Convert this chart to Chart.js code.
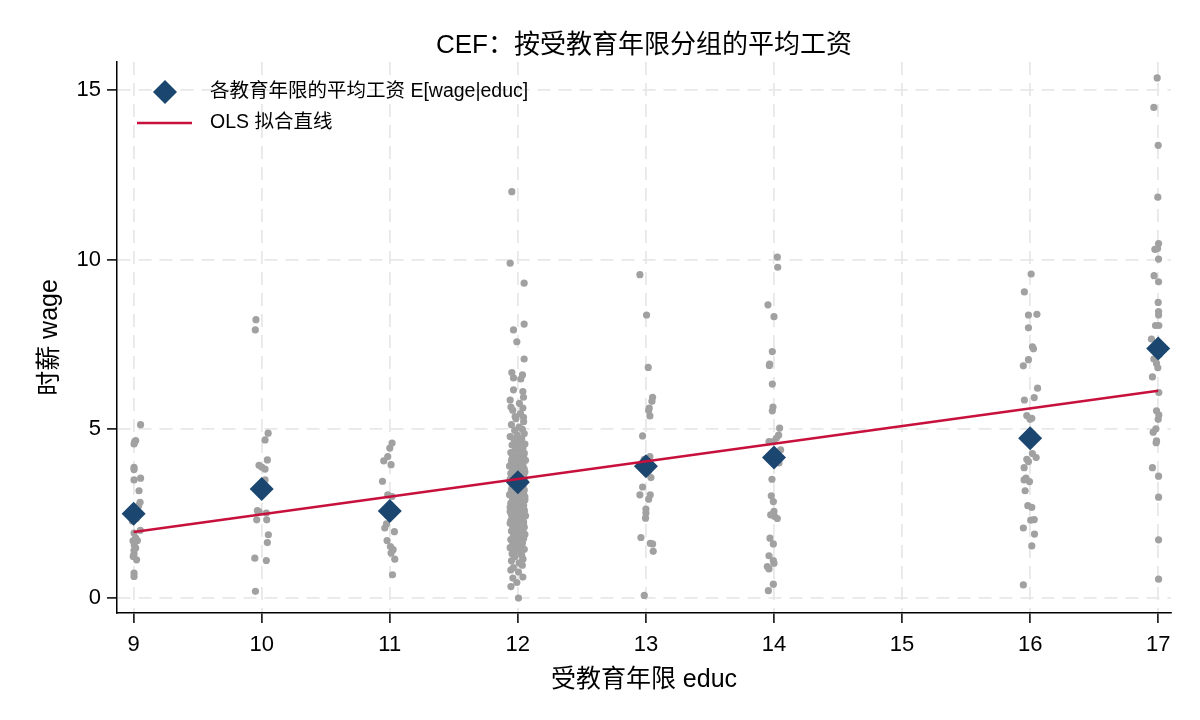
<!DOCTYPE html>
<html>
<head>
<meta charset="utf-8">
<script src="https://cdn.jsdelivr.net/npm/chart.js@4.4.1/dist/chart.umd.min.js"></script>
<style>
  html, body { margin: 0; padding: 0; background: #fff; }
  canvas { display: block; }
</style>
</head>
<body>
<canvas id="cef-chart" width="1200" height="720"></canvas>
<script>
// education levels present in the sample and the mean wage at each one
const educLevels = [9, 10, 11, 12, 13, 14, 16, 17];
const meanWage = [2.49, 3.22, 2.57, 3.42, 3.89, 4.15, 4.72, 7.37];

// OLS fitted line, read at both ends
const olsEduc = [9, 17];
const olsWage = [1.95, 6.12];

const xTicks = [9, 10, 11, 12, 13, 14, 15, 16, 17];
const yTicks = [0, 5, 10, 15];

// individual wages per education level, with the horizontal jitter seen in the plot
const wage9 = [5.12, 4.65, 4.62, 4.55, 3.86, 3.80, 3.54, 3.49, 3.17, 2.83, 2.73, 2.60, 2.35, 2.28, 2.00, 1.92, 1.77, 1.70, 1.69, 1.57, 1.48, 1.41, 1.30, 1.23, 1.13, 0.74, 0.64];
const jit9 = [0.054, 0.016, 0.008, 0.003, 0.003, 0.003, 0.054, 0.003, 0.042, 0.050, 0.039, -0.010, 0.020, -0.010, 0.052, 0.003, 0.016, 0.029, -0.005, 0.005, 0.016, 0.003, 0.003, -0.003, 0.023, 0.003, 0.003];

const wage10 = [8.22, 7.92, 4.87, 4.67, 4.08, 3.92, 3.87, 3.81, 3.49, 3.30, 3.10, 2.58, 2.55, 2.51, 2.31, 2.31, 1.87, 1.64, 1.18, 1.11, 0.20];
const jit10 = [-0.045, -0.050, 0.050, 0.026, 0.044, -0.021, 0.000, 0.026, 0.026, 0.000, 0.010, -0.034, -0.021, 0.036, -0.039, 0.039, 0.052, 0.044, -0.054, 0.036, -0.049];

const wage11 = [4.58, 4.43, 4.18, 4.05, 3.94, 3.45, 3.05, 3.00, 2.60, 2.45, 2.19, 2.07, 1.96, 1.70, 1.52, 1.43, 1.33, 1.15, 0.69];
const jit11 = [0.018, 0.000, -0.016, -0.047, 0.010, -0.057, -0.016, 0.018, 0.010, -0.020, -0.026, -0.039, 0.036, -0.021, 0.005, 0.026, 0.010, 0.039, 0.021];

const wage12 = [
  12.00, 9.89, 9.30, 8.09, 7.92, 7.57, 7.06, 6.66, 6.59, 6.50,
  6.47, 6.15, 6.10, 5.93, 5.85, 5.64, 5.61, 5.36, 5.34, 5.75,
  5.55, 5.45, 5.30, 5.21, 5.12, 5.05, 4.98, 4.95, 4.86, 4.81,
  4.77, 4.70, 4.69, 4.61, 4.55, 4.52, 4.50, 4.43, 4.38, 4.36,
  4.30, 4.25, 4.21, 4.18, 4.14, 4.10, 4.07, 4.05, 4.00, 3.96,
  3.91, 3.90, 3.84, 3.81, 3.79, 3.74, 3.70, 3.68, 3.63, 3.60,
  3.58, 3.55, 3.51, 3.49, 3.45, 3.40, 3.39, 3.34, 3.30, 3.28,
  3.25, 3.21, 3.19, 3.15, 3.12, 3.09, 3.05, 3.03, 3.00, 2.97,
  2.93, 2.90, 2.88, 2.83, 2.80, 2.78, 2.74, 2.70, 2.68, 2.64,
  2.61, 2.58, 2.55, 2.52, 2.50, 2.46, 2.43, 2.40, 2.36, 2.33,
  2.31, 2.27, 2.25, 2.21, 2.18, 2.15, 2.11, 2.09, 2.05, 2.02,
  1.98, 1.95, 1.91, 1.88, 1.83, 1.80, 1.76, 1.73, 1.69, 1.64,
  1.61, 1.57, 1.52, 1.49, 1.44, 1.40, 1.35, 1.31, 1.26, 1.21,
  1.15, 1.10, 1.04, 0.97, 0.90, 0.83, 0.77, 0.62, 0.59, 0.46,
  0.34, 0.00,
  4.47, 4.12, 3.98, 3.86, 3.72, 3.57, 3.43, 3.31, 3.17, 3.07,
  2.95, 2.85, 2.72, 2.60, 2.47, 2.38, 2.28, 2.16, 2.04, 1.93,
  1.85, 1.67, 1.55, 1.38, 4.66, 4.28, 3.66, 3.24, 2.99, 2.56,
  2.13, 1.78
];
const jit12 = [
  -0.047, -0.060, 0.049, 0.049, -0.034, -0.008, 0.049, -0.047, 0.036, -0.034,
  0.023, -0.034, 0.039, 0.044, -0.060, -0.054, 0.039, -0.021, 0.044, 0.012,
  -0.040, 0.020, -0.015, 0.045, -0.050, 0.010, 0.035, -0.025, 0.050, -0.005,
  -0.060, 0.030, -0.030, 0.015, 0.055, -0.045, 0.000, 0.040, -0.020, 0.025,
  -0.055, 0.005, 0.045, -0.035, 0.030, -0.010, 0.060, -0.050, 0.020, -0.025,
  0.040, -0.065, 0.010, 0.050, -0.040, -0.005, 0.035, -0.055, 0.020, 0.045,
  -0.030, 0.000, -0.060, 0.030, 0.055, -0.020, 0.015, -0.045, 0.040, -0.010,
  0.025, -0.050, 0.050, -0.030, 0.005, 0.045, -0.065, 0.020, -0.015, 0.035,
  -0.040, 0.055, -0.005, 0.030, -0.055, 0.010, 0.045, -0.025, -0.060, 0.040,
  0.000, -0.035, 0.050, -0.015, 0.025, -0.050, 0.060, -0.005, 0.035, -0.045,
  0.015, -0.025, 0.045, -0.060, 0.005, 0.030, -0.040, 0.050, -0.010, 0.020,
  -0.050, 0.040, -0.020, 0.055, -0.035, 0.010, 0.045, -0.055, 0.025, -0.005,
  0.035, -0.040, 0.015, -0.060, 0.050, -0.015, 0.020, -0.045, 0.030, -0.025,
  0.040, -0.050, 0.010, 0.035, -0.035, -0.055, 0.005, 0.039, -0.039, -0.008,
  -0.054, 0.005,
  0.010, -0.045, 0.030, -0.020, 0.055, -0.050, 0.020, -0.030, 0.040, -0.060,
  0.015, -0.045, 0.030, 0.050, -0.025, 0.005, -0.055, 0.045, -0.030, 0.025,
  -0.015, 0.035, -0.040, 0.010, -0.010, 0.050, -0.035, 0.000, 0.055, -0.060,
  0.030, -0.020
];

const wage13 = [9.55, 8.36, 6.81, 5.93, 5.81, 5.61, 5.54, 5.38, 4.79, 4.18, 4.10, 3.90, 3.75, 3.56, 3.28, 3.05, 3.05, 2.92, 2.63, 2.51, 2.36, 1.79, 1.62, 1.60, 1.38, 0.08];
const jit13 = [-0.047, 0.005, 0.018, 0.052, 0.047, 0.026, 0.021, 0.031, -0.026, 0.031, -0.013, 0.000, 0.020, 0.039, -0.026, -0.047, 0.034, 0.021, 0.000, 0.000, -0.003, -0.039, 0.034, 0.052, 0.057, -0.013];

const wage14 = [10.07, 9.77, 8.66, 8.31, 7.28, 6.91, 6.87, 6.32, 5.64, 5.53, 5.02, 4.81, 4.72, 4.62, 4.62, 4.38, 4.28, 3.99, 3.51, 3.02, 2.85, 2.56, 2.46, 2.41, 2.35, 1.77, 1.60, 1.25, 1.11, 1.03, 0.93, 0.86, 0.41, 0.22];
const jit14 = [0.026, 0.029, -0.047, 0.000, -0.013, -0.034, -0.036, -0.013, -0.008, -0.013, 0.044, 0.036, 0.018, -0.039, -0.005, 0.052, 0.031, 0.039, -0.016, -0.021, -0.005, 0.000, -0.026, 0.005, 0.026, -0.031, -0.005, -0.039, -0.005, 0.000, -0.052, -0.039, -0.005, -0.044];

const wage16 = [9.57, 9.04, 8.38, 8.36, 7.98, 7.42, 7.36, 7.04, 6.86, 6.20, 5.92, 5.85, 5.39, 5.31, 5.28, 4.85, 4.60, 4.27, 4.15, 4.10, 4.03, 3.85, 3.54, 3.49, 3.44, 3.17, 2.73, 2.68, 2.32, 2.30, 2.07, 1.89, 1.54, 0.39];
const jit16 = [0.008, -0.045, 0.053, -0.013, -0.013, 0.018, 0.026, -0.013, -0.053, 0.058, 0.032, -0.045, -0.026, 0.013, 0.000, 0.020, 0.000, 0.018, 0.047, -0.026, -0.013, -0.047, -0.032, -0.047, -0.005, -0.039, -0.018, 0.013, 0.032, 0.005, -0.053, 0.034, 0.013, -0.053];

const wage17 = [15.36, 14.49, 13.37, 11.84, 10.47, 10.32, 10.30, 10.01, 9.52, 9.34, 8.73, 8.46, 8.36, 8.05, 8.05, 7.65, 7.40, 7.20, 7.06, 6.93, 6.80, 6.53, 6.07, 5.53, 5.41, 5.28, 5.00, 4.90, 4.64, 4.59, 3.85, 3.60, 2.98, 1.72, 0.56];
const jit17 = [-0.008, -0.034, 0.000, -0.003, 0.003, -0.005, -0.026, 0.003, -0.032, 0.003, 0.000, 0.003, 0.003, -0.021, 0.005, -0.053, 0.000, 0.010, -0.034, -0.013, -0.003, -0.045, 0.005, -0.013, 0.005, 0.000, -0.018, -0.039, -0.013, -0.016, -0.045, 0.003, 0.003, 0.003, 0.003];

const wagesByLevel = [wage9, wage10, wage11, wage12, wage13, wage14, wage16, wage17];
const jitterByLevel = [jit9, jit10, jit11, jit12, jit13, jit14, jit16, jit17];

const FONT = "'Liberation Sans', Arial, 'Noto Sans CJK SC', sans-serif";
const GRAY = '#a1a1a1';
const NAVY = '#1b4670';
const RED = '#c8103c';

document.addEventListener('DOMContentLoaded', function() {
    // Gray jittered observations
    const obsPoints = [];
    educLevels.forEach(function(e, k) {
        wagesByLevel[k].forEach(function(w, i) {
            obsPoints.push({ x: e + (jitterByLevel[k][i] || 0), y: w });
        });
    });
    const meanPoints = educLevels.map((e, i) => ({ x: e, y: meanWage[i] }));
    const olsPoints = olsEduc.map((e, i) => ({ x: e, y: olsWage[i] }));

    // Legend drawn inside the plot, top left, without a frame
    const insideLegend = {
        id: 'insideLegend',
        afterDraw(chart) {
            const { ctx, chartArea } = chart;
            const x0 = chartArea.left + 20;
            const row1 = chartArea.top + 30;
            const row2 = chartArea.top + 61;
            const textX = x0 + 73;
            ctx.save();
            // diamond
            const cx = x0 + 28, r = 12;
            ctx.fillStyle = NAVY;
            ctx.beginPath();
            ctx.moveTo(cx - r, row1);
            ctx.lineTo(cx, row1 - r);
            ctx.lineTo(cx + r, row1);
            ctx.lineTo(cx, row1 + r);
            ctx.closePath();
            ctx.fill();
            // line
            ctx.strokeStyle = RED;
            ctx.lineWidth = 2.5;
            ctx.beginPath();
            ctx.moveTo(x0, row2);
            ctx.lineTo(x0 + 55, row2);
            ctx.stroke();
            // labels
            ctx.fillStyle = '#000';
            ctx.font = '19.5px ' + FONT;
            ctx.textBaseline = 'middle';
            ctx.textAlign = 'left';
            ctx.fillText(chart.data.datasets[1].label, textX, row1);
            ctx.fillText(chart.data.datasets[2].label, textX, row2);
            ctx.restore();
        }
    };

    const ctx = document.getElementById('cef-chart').getContext('2d');
    new Chart(ctx, {
        type: 'scatter',
        data: {
            datasets: [
                {
                    label: 'wage',
                    data: obsPoints,
                    backgroundColor: GRAY,
                    borderWidth: 0,
                    pointRadius: 3.6,
                    order: 2
                },
                {
                    label: '各教育年限的平均工资 E[wage|educ]',
                    data: meanPoints,
                    pointStyle: 'rectRot',
                    backgroundColor: NAVY,
                    borderColor: NAVY,
                    borderWidth: 0,
                    pointRadius: 12,
                    order: 1
                },
                {
                    label: 'OLS 拟合直线',
                    data: olsPoints,
                    showLine: true,
                    borderColor: RED,
                    borderWidth: 2.5,
                    pointRadius: 0,
                    order: 0
                }
            ]
        },
        options: {
            responsive: false,
            animation: false,
            layout: { padding: { top: 0, left: 0, right: 29, bottom: 0 } },
            plugins: {
                legend: { display: false },
                tooltip: { enabled: false },
                title: {
                    display: true,
                    text: 'CEF：按受教育年限分组的平均工资',
                    fullSize: false,
                    color: '#000',
                    font: { family: FONT, size: 26, weight: 'normal' },
                    padding: { top: 30, bottom: 0.8 }
                }
            },
            scales: {
                x: {
                    type: 'linear',
                    min: 8.87,
                    max: 17.1,
                    afterBuildTicks: s => { s.ticks = xTicks.map(v => ({ value: v })); },
                    afterFit: s => { s.height = 107; },
                    ticks: {
                        color: '#000',
                        font: { family: FONT, size: 22 },
                        padding: 9,
                        maxRotation: 0
                    },
                    grid: {
                        color: '#e8e8e8',
                        lineWidth: 1.8,
                        tickColor: '#000',
                        tickWidth: 1.5,
                        tickLength: 10
                    },
                    border: { display: true, color: '#000', width: 1.5, dash: [13, 8] },
                    title: {
                        display: true,
                        text: '受教育年限 educ',
                        color: '#000',
                        font: { family: FONT, size: 25 },
                        padding: { top: 0, bottom: 25 }
                    }
                },
                y: {
                    type: 'linear',
                    min: -0.44,
                    max: 15.83,
                    afterBuildTicks: s => { s.ticks = yTicks.map(v => ({ value: v })); },
                    afterFit: s => { s.width = 117; },
                    ticks: {
                        color: '#000',
                        font: { family: FONT, size: 22 },
                        padding: 6
                    },
                    grid: {
                        color: '#e8e8e8',
                        lineWidth: 1.8,
                        tickColor: '#000',
                        tickWidth: 1.5,
                        tickLength: 10
                    },
                    border: { display: true, color: '#000', width: 1.5, dash: [13, 8] },
                    title: {
                        display: true,
                        text: '时薪 wage',
                        color: '#000',
                        font: { family: FONT, size: 25 },
                        padding: { top: 35, bottom: 0 }
                    }
                }
            }
        },
        plugins: [insideLegend]
    });
});
</script>
</body>
</html>
